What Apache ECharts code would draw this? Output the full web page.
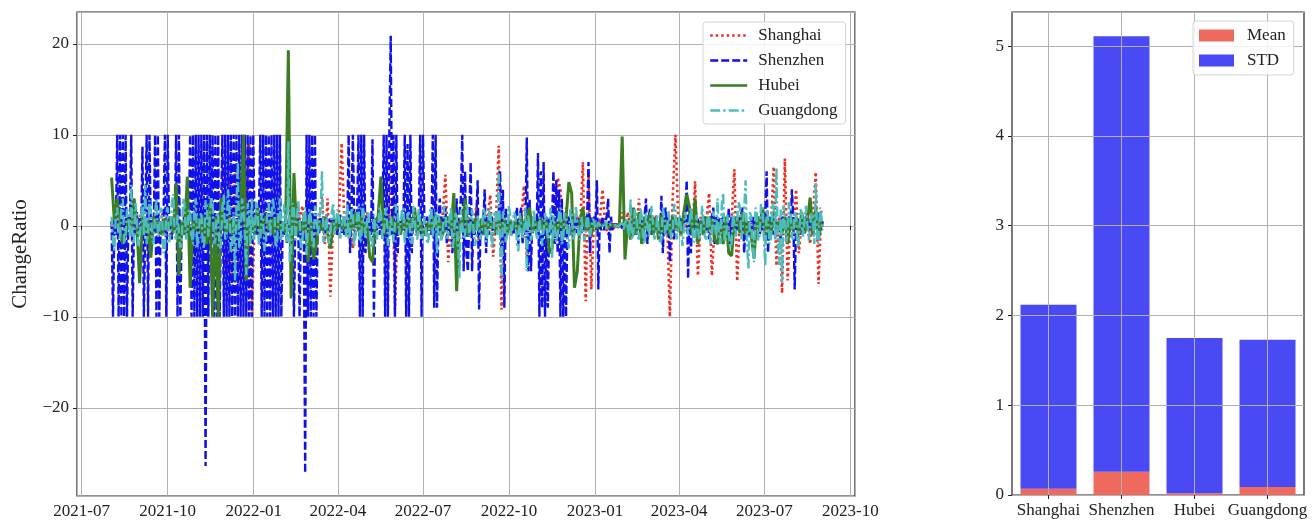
<!DOCTYPE html>
<html>
<head>
<meta charset="utf-8">
<script src="https://cdn.jsdelivr.net/npm/echarts@6/dist/echarts.min.js"></script>
<style>
  html, body { margin: 0; padding: 0; background: #fff; }
  #chart { width: 1314px; height: 524px; }
</style>
</head>
<body>
<div id="chart"></div>
<script>
// first sample 2021-08-02 (month is 0-based); each series has its own sampling step in hours
const START = [2021, 7, 2];
const STEP_COARSE = 72;   // Shanghai, Hubei
const STEP_FINE = 36;     // Shenzhen, Guangdong

const cities = ['Shanghai', 'Shenzhen', 'Hubei', 'Guangdong'];

const shanghai = [
  0.5, -1, 1.5, -0.8, 0.6, -1.2, 1, -0.5, 0.8, -1,
  1.2, -0.6, 0.4, -1.5, 1, -0.3, 0.7, -1, 1.4, -0.8,
  0.5, -1.2, 1, -0.4, 0.6, -1, 1.5, -0.7, 0.9, -1.3,
  1.1, -0.5, 0.3, -1, 1.2, -0.8, 0.6, -1.4, 1, -0.5,
  6.5, -5.5, 5, -6, 6.8, -4.5, 3, -1, 2, 9,
  -10, 1, -0.8, 0.6, -1.2, 1.5, -0.5, 0.8, -1, 1.2,
  -0.6, 0.5, -1, 0.7, -0.4, 1, 2.5, 0.5, 2.2, -1,
  0.8, -0.5, 0.5, -1, 1, 3.2, -2, 3, -7.8, 0.5,
  -0.5, 1, 9.1, 0.2, -1, 0.5, -2.5, 1, -0.6, 0.8,
  -1, 1.5, -0.5, 0.6, -1, 1, -0.5, 0.8, -1.2, 1,
  9, -9.2, 1, -0.8, 0.5, -1, 1.2, -0.5, 0.8, -1,
  1, -0.6, 0.5, -1, 1.2, -0.8, 0.6, -1, 1, 5.6,
  -4, 0.5, -0.8, 1, -0.5, 0.8, -1, 1, -0.4, 0.6,
  2, -2, 0.5, -0.6, 1, 3.4, -3.4, 0.5, 8.8, -9.2,
  1, -0.5, 0.8, -1, 1, -0.5, 0.6, 4.4, -3.5, 0.5,
  -0.8, 1, -0.5, 0.8, -1, 0.6, -0.5, 1, -0.8, 5.3,
  4, -1, 2, -1, 0.5, -0.8, 1, -0.5, 7, -8.3,
  6, -7, 1, -0.5, 0.5, 4, 0, -1, 0.5, -0.3,
  0.2, 0, 1.5, -0.5, 1.5, -0.4, 0.5, -0.8, 3, -2,
  1, -0.5, 0.8, -1, 1.2, -0.6, 0.5, -1, 1, -10,
  3, 10, 0.5, -1, 1, -0.6, 0.8, -1, 4.9, -5.5,
  1, -0.8, 0.6, 3.6, -5.5, 0.5, -1, 1, -0.5, 0.8,
  -1, 0.6, 6.2, -6.1, 1, -0.8, 0.5, -1, 1, -0.6,
  0.8, -1, 0.5, -0.8, 1, -0.5, 6.5, -4.4, 1, -7.4,
  7.4, -6, 1, -0.5, 4, -3, 0.5, -1, 1.5, -2,
  1, 5.9, -6.4, 2
];

const shenzhen = [
  0.5, -10, 0.8, -1, 10, -10, 10, -10, 10, -10,
  10, -10, 1, -0.5, 10, -10, 0.5, -1, 1.5, -0.5,
  0.8, -1.2, 8.7, -10, 0.5, 10, -10, 10, -1, 0.6,
  -0.8, 10, -10, 10, -10, 0.5, -1, 1, 10, -10,
  10, -0.5, 1, -1.5, 0.8, -0.5, 10, -10, 10, -10,
  0.5, -1, 1.2, -0.8, 0.6, -1, 10, -10, 10, -10,
  10, -10, 10, -10, 10, -10, 10, -26.4, 10, -10,
  10, -1, 10, -10, 10, -10, 10, -10, 0.5, 10,
  -10, 10, -10, 10, -10, 10, -10, 10, -10, 10,
  -10, 10, -10, 10, -10, 10, -10, 10, -10, 10,
  -10, 10, -1, 0.5, -1, 1, 10, -10, 10, -10,
  10, -10, 10, -10, 10, -10, 10, -10, 10, -10,
  10, -10, 0.5, -1, 1, -2, 0.5, 1, -0.5, 0.8,
  -10, 0.5, -1, 0.8, -10, 0.5, -1, 1, -27.2, 10,
  -10, 10, -10, 10, -10, 10, -10, 0.6, -0.8, 1,
  -0.5, 0.3, -1, 1.2, -0.6, 0.2, 0.8, -0.6, 1, -0.5,
  0.8, -1, 0.5, 1.2, -0.8, 0.5, -1, 0.8, -0.5, 10,
  -3, 1, 10, 0.5, -1, 1, 10, -10, 10, -10,
  10, -3, 1, -0.5, 0.8, -1, 9.5, -10, 0.8, -0.5,
  1, -1, 0.5, -0.5, 10, -10, 10, -10, 10, 20.9,
  -1, 10, -10, 10, -3, 0.5, -1, 1, -0.5, 10,
  -10, 9, -10, 10, -3, 1, -0.5, 0.8, -1, 0.5,
  10, -10, 10, 0.5, -1, 1, -0.5, 0.8, -1, 10,
  -9, 10, -9, 0.5, 3, -1.5, 1, -0.5, 2, -2,
  0.5, -1, 0.5, -3, 2, -1, 3, -2, 1, 3,
  10, -5, 6, -3, -5, 1, 7, -5, 0.5, -1,
  1, 5, -9.2, 0.5, -1, 0.5, 4, -3, 1, -1,
  0.5, 1, -0.5, 0.8, -1, 0.5, 1, 6, -3, 4,
  -9, 2, -1, 0.5, 0.8, -1, 0.5, -0.8, 1, 2,
  -2, 1, 2, -2, 0.5, -1, 9.7, -5, 3, -5,
  1, -0.5, 0.5, -1, 8, -10, 6, -9, 7, -10,
  1, -9, 0.8, -1, 0.5, 6, -2, 5, -3, 4,
  -10, 3, -10, 1, -10, 0.5, 1, -1, 0.5, 1,
  -0.5, 1, -0.8, 0.5, 1, -0.8, 0.5, -0.5, 1, 0.5,
  7, -3, 1, -0.5, 1, 0.5, 5, -7, 0.5, -0.5,
  1, -0.5, 0.5, 1, 3, -3, 1, -0.5, 0.2, 0,
  0.1, -0.2, 0, 0.2, -0.3, 0, 0.2, -0.2, 0.3, 0,
  0.5, -0.5, 0.5, -1, 0.8, -0.5, 1, -0.8, 0.6, -0.5,
  1, 3, -2, 1, 2, -1, 1, -0.5, 0.8, -0.6,
  0.5, -1, 3.3, -3, 1, 2, -1, 1, -4, 0.5,
  1, -1.5, 0.5, -0.5, 0.5, 1, -0.5, 0.8, -0.5, 1,
  5, -5.8, 2, -3, 1, -0.5, 0.8, -0.5, 0.8, -1,
  0.6, -0.4, 0.5, 1, -0.5, 0.8, -1.5, 0.5, 1, 2,
  -2, 1, -0.5, 0.8, -1, 0.5, 1, -0.5, 0.8, -1,
  2, -2, 1, -0.5, 0.5, -0.8, 1, -0.5, 0.8, 1,
  2, -3, 0.5, -0.5, 0.5, -1, 1, -0.5, 1, -0.5,
  0.5, 1, -1, 0.5, -0.5, 0.5, 0.8, 6, -3, 1,
  -0.5, 1, -1, 0.5, 0.8, -0.5, 0.5, -1.5, 1, -0.5,
  1, -0.5, 0.5, 1, -0.5, 4, 1, -7, 0.5, -0.5,
  0.8, -1, 1, -0.5, 0.5, 1, -0.5, 0.8, -0.5, 0.8,
  -1, 1, 0.5, -0.5, 1.5, 1, -0.5, 0.5
];

const hubei = [
  5.3, 0.5, 3, -0.5, -2, -1, 0.8, -0.5, 3, 0.2,
  -6.3, 1, -0.8, 0.5, -3.5, 1, -0.3, 0.5, -1, 0.8,
  -0.5, 1, -0.8, 4.7, -5.5, 0.5, -1, 5.4, -6.8, 0.5,
  -0.5, 0.8, -1, 1, -2, 2.5, -10, 1, -10, 3,
  0.5, -0.8, 1, -1, 0.5, -0.5, 1, 10, -6, 0.5,
  1, -0.8, 2, -1, 0.5, 1, -0.5, 0.8, -1, 1,
  -0.5, 0.5, -0.8, 19.3, -8, 5.8, -1, 0.5, -0.5, 1,
  -4, 0.5, -3.7, -2, 0.5, -0.5, 1, -0.8, -2.5, 0.5,
  -0.5, 1, -0.3, 0.5, -1, 0.8, -0.5, 1.5, -0.5, 1,
  -0.8, 0.5, -3.4, -4, 0.5, 1, 5.4, -1, 0.8, -0.5,
  1, -0.8, 0.5, -1, 1, -0.5, 0.8, -0.5, 2, -1,
  0.5, -0.8, -1, 0.5, -0.5, 1, -0.5, 0.8, -1, 0.5,
  1, -0.5, 3.6, -7.2, 0.5, -0.5, 3, -1, 0.5, -0.8,
  1, -0.5, 0.8, -1, 0.5, -0.3, 0.5, -0.8, 1, -0.5,
  0.5, -0.8, 0.6, -0.4, 0.5, -1, 1, -0.5, 0.8, 2,
  -0.8, 0.5, -0.3, 0.8, -0.5, 0.5, -3, -2.5, 0.5, -0.8,
  1, -0.5, 0.8, 4.8, 3.6, -6.8, -5, 0.5, 2, -0.5,
  0.8, -1, 0.5, -0.3, 0.2, 0, 0.3, -0.2, 0, 0.1,
  0, -0.1, 9.8, -3.7, 0.5, -1.5, 2, -1, 1.5, -2,
  1, -0.5, 1.5, -1, 0.8, -1.5, 1.2, -0.8, 0.5, -1,
  1, -0.5, 0.8, -1, 1.5, 3.5, 2, -1, 3, -2,
  0.5, -1, 1, -0.5, 0.8, -1.5, -2, 0.5, -2, 1,
  -3, -3.3, 0.5, 1, -0.8, 1.5, -1, 0.5, -1, -3.6,
  1, -0.5, 2, -1, 0.8, -1, 1.5, -0.5, 0.5, -1,
  1, -2, 0.8, -0.5, 1, -1, 1.5, -0.8, 0.5, 3.1,
  -1, 2, -1.5, 0.5
];

const guangdong = [
  1, -1.8, -2.7, 1.2, 2, -0.8, -1.5, 2.2, 3, -2,
  -1, 1.8, 1.5, -1.2, 4.5, -1.5, -2, 2.5, 1, -2.2,
  -1.5, 1, 2.5, -1, 4.5, -2, -1, 2.8, 1.5, -1.6,
  -2, 1.4, 3, -1.2, -0.5, 2, 1, -3, -2.5, 1.5,
  2, -1.8, -1, 2.6, 3.5, -1, -1.5, 1.2, 1, -2.4,
  -2, 3, 2.5, -1.5, -0.5, 1.8, 1.5, -1, -2, 2.2,
  3, -2.5, -1, 1, 1.5, -2, -2.5, 2.8, 2, -1.2,
  -1, 3.2, 2.5, -2, -1.5, 1.5, 1, -2.6, -2, 2,
  3.5, -1.5, -1, 4, 2, -3, -2.5, 1.5, -6, 2,
  7, -2.5, -1.5, 3, 2, -1, -5.4, 2.5, 1.5, -2,
  3, -1.5, -1, 2.6, 2, -2.2, -1.5, 1.4, 1, -2.8,
  -2, 2, 2.5, -1.2, -1, 3, 1.5, -2.4, -2, 1.6,
  3, -1.5, -1, 2.4, 1, -1.8, 9.3, -4, -3, 2.5,
  2, -1.6, -1.5, 2.8, 1, -2.5, -2, 1.5, 2, -3.2,
  -3, 1.8, 1, -1.5, -2.5, 2.2, 1.5, -1.2, -1, 2,
  6, -1.8, -1.5, 1.2, 1, -2, -1, 1.5, 2.5, -1,
  -1, 1.8, 1, -1.4, -0.5, 1, 1.5, -1.2, 2.5, -1.5,
  -1, 2, 1.5, -2.2, -1, 1.2, 2, -1.8, -1.5, 2.4,
  1, -1.2, -1, 1.6, 1.5, -2.5, -2, 1.2, 1, -1.5,
  -0.5, 2, 1.5, -1.6, -1, 1.4, 2, -2.2, -1.5, 1,
  1, -1.8, -2, 2.4, 1.5, -1, -1, 1.6, 2, -2,
  -1, 1.2, 1.5, -1.5, -2, 2.2, 1, -1.2, -1.5, 1.8,
  2, -1.4, -1, 1, 1, -2, -1.5, 1.6, 2, -1.2,
  -1, 1.5, -3, 1.2, 1, -1.6, -1, 2.2, 1.5, -1.4,
  -1, 1, 2, -2.4, -1.5, 1.5, 1, -2, -5.8, 1.8,
  2, -1.5, -1, 2.5, 1.5, -1.2, -1, 1.8, 2, -2.2,
  -1.5, 1.2, 1, -1.5, -0.5, 2, 1.5, -1.8, -1, 1.4,
  2, -2.5, -1.5, 1.6, 1, -1, 6.2, -2, -5.9, 1.5,
  1, -1.8, -1, 2.2, 1.5, -1.2, -1, 1.5, 1, -2,
  -2.8, 1.4, 1.5, -1.5, -1, 2, -5, 1.2, 1, -1.6,
  -1, 1.8, 2, -1.2, -1.5, 1, 1, -2.2, -0.5, 1.4,
  1.5, -1.5, -1, 2, -3.5, 1.2, 1, -1.8, -1, 1.5,
  2, -2, -1.5, 1.4, 1, -1.2, -2.5, 1.8, 1.5, -1.5,
  -1, 2.2, 2, -1.2, -1.5, 1, 1, -1.6, -1, 1.4,
  1.5, -1.2, -1, 0.8, 0.5, -0.6, -0.5, 0.4, 0.3, -0.2,
  -0.2, 0.1, 0.5, -0.3, -0.3, 0.2, 0.2, 0, 0, 0.1,
  0.1, -0.1, -0.1, 0.2, 0.5, -0.4, -0.5, 0.8, 1, -1.2,
  2.9, -1.5, -1, 1.8, 1.5, -1.2, -1.5, 2, 1, -1.6,
  -2, 1.4, 1.5, -1.2, -1, 2.2, 2, -1.5, -1, 1.2,
  1, -1.8, -1.5, 2, 1, -1.2, -0.5, 1.6, 1.5, -1.4,
  -1, 2.4, 2, -1.5, -1.5, 1.2, 1, -2.2, -2, 1.5,
  1.5, -1, -1, 2, 2, -1.8, -1.5, 1.2, 1, -1.6,
  -1, 2.2, 2, -1.2, -1.5, 1.4, 1, -2, -1, 1.6,
  1.5, -1.2, 3, -1.5, -2, 2.2, 3.6, -1.8, -1.5, 1.2,
  1, -2.4, -2, 1.5, 1.5, -1.2, -1, 2.6, 2, -1.5,
  -1.5, 1.8, 5, -2, -4.7, 1.5, 1, -2.2, -4, 2,
  1.5, -1.6, -1, 2.4, 2, -1.2, -4.4, 1.8, 1, -2,
  -1.5, 2.5, 2, -1.5, 6.4, -2, -4.3, 1.8, -6.2, 2.2,
  1.5, -1.8, -1, 2.6, 2, -1.2, -1.5, 1.6, 1, -2.4,
  -2, 1.8, 1.5, -1.2, -1, 2.2, 2, -1.6, -1.5, 1.4,
  1, -2, 4.7, -1.5, -2, 2, 1, -0.5
];

// right panel
const meanVals = [0.07, 0.26, 0.02, 0.09];
const stdVals = [2.05, 4.85, 1.73, 1.64];

const FONT = '"Liberation Serif", "DejaVu Serif", serif';
const GRID_COLOR = '#b0b0b0';
const INK = '#222';

const t0 = new Date(START[0], START[1], START[2]).getTime();

function toPoints(values, stepHours) {
  return values.map((v, i) => [t0 + i * stepHours * 3600 * 1000, v]);
}

function fmtMonth(v) {
  const d = new Date(v);
  const m = d.getMonth() + 1;
  return d.getFullYear() + '-' + (m < 10 ? '0' : '') + m;
}

function fmtSigned(v) {
  return v < 0 ? '\u2212' + Math.abs(v) : String(v);
}

function lineSeries(name, values, stepHours, color, dash, width) {
  return {
    name: name,
    type: 'line',
    xAxisIndex: 0,
    yAxisIndex: 0,
    data: toPoints(values, stepHours),
    showSymbol: false,
    symbol: 'none',
    lineStyle: { color: color, width: width, type: dash, cap: 'butt' },
    itemStyle: { color: color }
  };
}

const chart = echarts.init(document.getElementById('chart'));

chart.setOption({
  animation: false,
  textStyle: { fontFamily: FONT },
  grid: [
    { left: 77, top: 12, width: 778, height: 484, show: true, borderColor: INK, borderWidth: 1.2 },
    { left: 1012, top: 12, width: 292, height: 483, show: true, borderColor: INK, borderWidth: 1.2 }
  ],
  legend: [
    {
      data: cities,
      orient: 'vertical',
      left: 703,
      top: 22,
      padding: [5, 8, 5, 6],
      itemWidth: 37,
      itemHeight: 14,
      itemGap: 8,
      itemStyle: { opacity: 0, borderWidth: 0 },
      lineStyle: { width: 2.4 },
      backgroundColor: 'rgba(255,255,255,0.85)',
      borderColor: '#d4d4d4',
      borderWidth: 1,
      borderRadius: 3,
      textStyle: { fontFamily: FONT, fontSize: 17, color: INK, padding: [0, 0, 0, 6] }
    },
    {
      data: ['Mean', 'STD'],
      orient: 'vertical',
      left: 1193,
      top: 21,
      padding: [6, 8, 6, 6],
      icon: 'rect',
      itemWidth: 35,
      itemHeight: 12,
      itemGap: 8,
      backgroundColor: 'rgba(255,255,255,0.85)',
      borderColor: '#d4d4d4',
      borderWidth: 1,
      borderRadius: 3,
      textStyle: { fontFamily: FONT, fontSize: 17, color: INK, padding: [0, 0, 0, 8] }
    }
  ],
  xAxis: [
    {
      type: 'time',
      gridIndex: 0,
      min: new Date(2021, 5, 26).getTime(),
      max: new Date(2023, 9, 6).getTime(),
      splitNumber: 9,
      axisLine: { show: false },
      axisTick: { show: true, length: 4, lineStyle: { color: INK } },
      minorTick: { show: false },
      axisLabel: {
        color: INK, fontFamily: FONT, fontSize: 17, margin: 7,
        formatter: fmtMonth, showMinLabel: false, showMaxLabel: false
      },
      splitLine: { show: true, lineStyle: { color: GRID_COLOR, width: 1 } }
    },
    {
      type: 'category',
      gridIndex: 1,
      data: cities,
      z: 3,
      axisLine: { show: false },
      axisTick: { show: true, alignWithLabel: true, length: 4, lineStyle: { color: INK } },
      axisLabel: { color: INK, fontFamily: FONT, fontSize: 17, margin: 7, interval: 0 },
      splitLine: { show: true, alignWithLabel: true, interval: 0, lineStyle: { color: GRID_COLOR, width: 1 } }
    }
  ],
  yAxis: [
    {
      type: 'value',
      gridIndex: 0,
      min: -29.7,
      max: 23.5,
      splitNumber: 5,
      name: 'ChangeRatio',
      nameLocation: 'middle',
      nameGap: 46,
      nameTextStyle: { fontFamily: FONT, fontSize: 21, color: INK },
      axisLine: { show: false },
      axisTick: { show: true, length: 4, lineStyle: { color: INK } },
      axisLabel: {
        color: INK, fontFamily: FONT, fontSize: 17, margin: 8,
        formatter: fmtSigned, showMinLabel: false, showMaxLabel: false
      },
      splitLine: { show: true, lineStyle: { color: GRID_COLOR, width: 1 } }
    },
    {
      type: 'value',
      gridIndex: 1,
      min: 0,
      max: 5.38,
      interval: 1,
      z: 3,
      axisLine: { show: false },
      axisTick: { show: true, length: 4, lineStyle: { color: INK } },
      axisLabel: {
        color: INK, fontFamily: FONT, fontSize: 17, margin: 8,
        showMaxLabel: false
      },
      splitLine: { show: true, lineStyle: { color: GRID_COLOR, width: 1 } }
    }
  ],
  series: [
    lineSeries('Shanghai', shanghai, STEP_COARSE, '#ee2e22', [2.5, 3], 2.6),
    lineSeries('Shenzhen', shenzhen, STEP_FINE, '#1010e8', [8, 3], 2.4),
    lineSeries('Hubei', hubei, STEP_COARSE, '#3a7d22', 'solid', 3),
    lineSeries('Guangdong', guangdong, STEP_FINE, '#4cbcbc', [10, 3, 2.5, 3], 2.4),
    {
      name: 'Mean',
      type: 'bar',
      xAxisIndex: 1,
      yAxisIndex: 1,
      stack: 'ms',
      barWidth: 56,
      data: meanVals,
      itemStyle: { color: '#ee6a5e' }
    },
    {
      name: 'STD',
      type: 'bar',
      xAxisIndex: 1,
      yAxisIndex: 1,
      stack: 'ms',
      barWidth: 56,
      data: stdVals,
      itemStyle: { color: '#4a4af5' }
    }
  ]
});
</script>
</body>
</html>
